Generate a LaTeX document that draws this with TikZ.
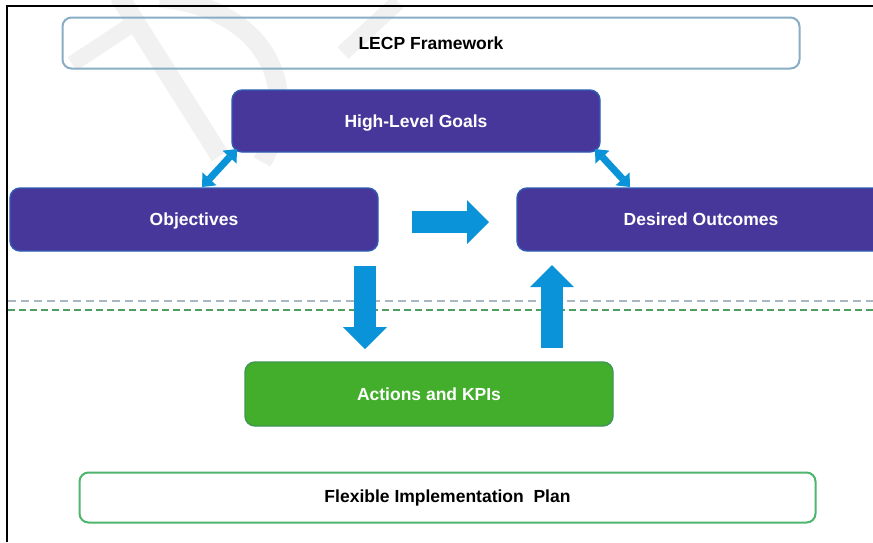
\documentclass[tikz,border=0pt]{standalone}
\usepackage{fontspec}
\setmainfont{Liberation Sans}
\usetikzlibrary{arrows.meta}

\definecolor{goalpurple}{HTML}{48379A}
\definecolor{goaledge}{HTML}{2F5DB3}
\definecolor{actgreen}{HTML}{43AE2B}
\definecolor{frameedge}{HTML}{8AADC6}
\definecolor{planedge}{HTML}{4DB56E}
\definecolor{flowblue}{HTML}{0A93D9}
\definecolor{greydash}{HTML}{A9B7C1}
\definecolor{greendash}{HTML}{4E9E62}
\definecolor{mark}{HTML}{F1F1F1}

\tikzset{
  lbl/.style={font=\fontsize{17.5}{20}\selectfont\bfseries},
  outlinebox/.style={lbl, draw, line width=2pt, rounded corners=9pt,
    inner sep=0pt, text=black},
  stagebox/.style={lbl, draw=goaledge, line width=1.4pt, rounded corners=10pt,
    fill=goalpurple, text=white, inner sep=0pt, minimum width=368pt,
    text depth=-1.5pt},
  blockarrow/.style={draw=flowblue, line width=21.5pt,
    -{Triangle[length=22pt,width=44pt,line width=0pt]}},
  linkarrow/.style={draw=flowblue, line width=7pt,
    {Triangle[length=11pt,width=19pt,line width=0pt]}-{Triangle[length=11pt,width=19pt,line width=0pt]}},
  wm/.style={draw=mark, line width=19pt}
}

\begin{document}
\begin{tikzpicture}[x=1pt,y=-1pt]
  \useasboundingbox (0,0) rectangle (873,542);
  \clip (0,0) rectangle (873,542);
  \fill[white] (0,0) rectangle (873,542);

  % faint watermark strokes
  \draw[wm] (119,-4) -- (220,156);
  \draw[wm, line width=16pt] (72,64) -- (128,27);
  \draw[wm] (160,-2) .. controls (262,8) and (305,85) .. (262,162);
  \draw[wm, line width=16pt] (343,53) -- (398,2);

  % outer frame
  \draw[black, line width=1.8pt] (7,542) -- (7,6) -- (873,6);

  % phase separators
  \draw[greydash, line width=2.6pt, dash pattern=on 8pt off 5pt] (8,301) -- (873,301);
  \draw[greendash, line width=1.3pt, dash pattern=on 7pt off 4pt] (8,310) -- (873,310);

  % boxes
  \node[outlinebox, draw=frameedge, minimum width=737pt, minimum height=51pt]
    (framework) at (431,43) {LECP Framework};
  \node[stagebox, minimum height=62pt] (goals) at (416,121) {High-Level Goals};
  \node[stagebox, minimum height=63pt] (objectives) at (194,219.5) {Objectives};
  \node[stagebox, minimum height=63pt] (outcomes) at (701,219.5) {Desired Outcomes};
  \node[stagebox, fill=actgreen, draw=actgreen!70!goaledge, minimum height=64pt]
    (actions) at (429,394) {Actions and KPIs};
  \node[outlinebox, draw=planedge, fill=white, minimum width=736pt, minimum height=50pt]
    (plan) at (447.5,497.5) {Flexible Implementation\ \ Plan};

  % arrow end points
  \coordinate (rightA) at (412,222);
  \coordinate (rightB) at (489,222);
  \coordinate (downA) at (365,266);
  \coordinate (downB) at (365,349);
  \coordinate (upA) at (552,348);
  \coordinate (upB) at (552,265);
  \coordinate (linkLA) at (202,187);
  \coordinate (linkLB) at (237,149);
  \coordinate (linkRA) at (595,149);
  \coordinate (linkRB) at (630,187);

  % connectors
  \draw[blockarrow] (rightA) -- (rightB);
  \draw[blockarrow] (downA) -- (downB);
  \draw[blockarrow] (upA) -- (upB);
  \draw[linkarrow] (linkLA) -- (linkLB);
  \draw[linkarrow] (linkRA) -- (linkRB);
\end{tikzpicture}
\end{document}
